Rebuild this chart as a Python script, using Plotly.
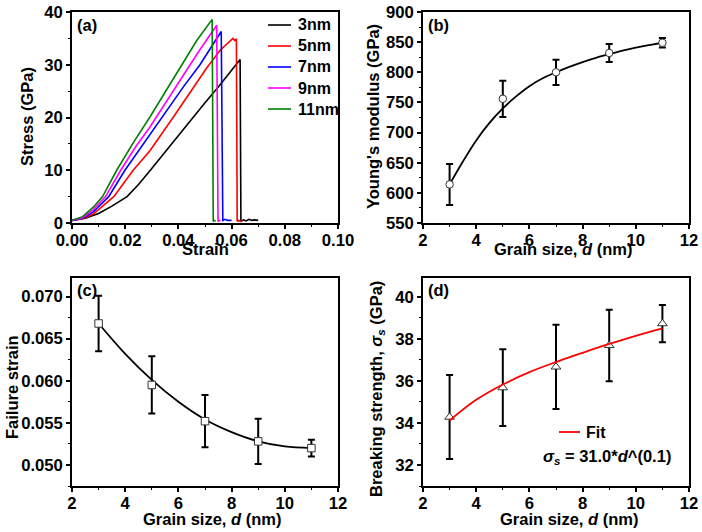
import plotly.graph_objects as go

W, H = 702, 532

# ---------------- Data ----------------
# (a) stress-strain curves
strain_3nm = [0, 0.005, 0.010, 0.015, 0.0207, 0.0250, 0.0293, 0.0350, 0.0400, 0.0450, 0.0500, 0.0550,
              0.0600, 0.0632, 0.0635, 0.0645, 0.0655, 0.0665, 0.0675, 0.0685, 0.0700]
stress_3nm = [0.5, 0.9, 1.8, 3.2, 5.0, 7.3, 9.9, 13.5, 16.7, 19.8, 22.8, 25.8,
              28.9, 31.0, 0.3, 0.6, 0.4, 0.7, 0.5, 0.6, 0.5]
strain_5nm = [0, 0.004, 0.008, 0.0157, 0.0230, 0.0293, 0.0380, 0.0449, 0.0505, 0.0556, 0.0590, 0.0605,
              0.0612, 0.0618, 0.0621, 0.0625, 0.0632, 0.0640]
stress_5nm = [0.5, 0.8, 1.7, 5.0, 10.0, 13.7, 20.0, 25.0, 29.3, 32.7, 34.3, 35.0,
              34.6, 34.9, 0.3, 0.5, 0.3, 0.4]
strain_7nm = [0, 0.004, 0.008, 0.0138, 0.0199, 0.0250, 0.0293, 0.0360, 0.0420, 0.0481, 0.0520, 0.0561,
              0.0567, 0.0575, 0.0585, 0.0600]
stress_7nm = [0.5, 0.9, 2.1, 5.0, 10.0, 13.7, 16.6, 21.6, 25.9, 30.0, 33.0, 36.3,
              0.5, 0.7, 0.5, 0.5]
strain_9nm = [0, 0.004, 0.008, 0.0126, 0.0183, 0.0240, 0.0293, 0.0360, 0.0420, 0.0480, 0.0544,
              0.0549, 0.0553, 0.0558]
stress_9nm = [0.5, 1.0, 2.5, 5.0, 10.0, 14.5, 18.2, 23.5, 28.2, 32.8, 37.5,
              0.3, 0.5, 0.4]
strain_11nm = [0, 0.004, 0.008, 0.0115, 0.0168, 0.0230, 0.0293, 0.0350, 0.0410, 0.0469, 0.0527,
               0.0531, 0.0535, 0.0540]
stress_11nm = [0.5, 1.2, 3.0, 5.0, 10.0, 15.2, 20.1, 24.8, 29.8, 34.6, 38.6,
               0.3, 0.5, 0.4]
series_names = ["3nm", "5nm", "7nm", "9nm", "11nm"]
series_colors = ["#000000", "#ff0000", "#0000ff", "#ff00ff", "#008000"]

# grain sizes
grain = [3, 5, 7, 9, 11]

# (b) Young's modulus
modulus = [614, 756, 800, 832, 849]
modulus_err = [34, 30, 21, 15, 8]
modulus_fit_x = [3, 3.5, 4, 4.5, 5, 5.5, 6, 6.5, 7, 7.5, 8, 8.5, 9, 9.5, 10, 10.5, 11]
modulus_fit_y = [614, 652, 687, 716, 740, 760, 777, 790, 800, 809, 817, 824, 830, 836, 841, 845, 849]

# (c) Failure strain
fstrain = [0.0668, 0.0595, 0.0552, 0.0528, 0.0520]
fstrain_err = [0.0033, 0.0034, 0.0031, 0.0027, 0.0010]
fstrain_fit_x = [3, 4, 5, 6, 7, 8, 9, 10, 11]
fstrain_fit_y = [0.0668, 0.0632, 0.0601, 0.0575, 0.0554, 0.0539, 0.0528, 0.0522, 0.0520]

# (d) Breaking strength
strength = [34.28, 35.68, 36.67, 37.69, 38.73]
strength_err = [2.0, 1.83, 2.0, 1.7, 0.89]
strength_fit_x = [3, 4, 5, 6, 7, 8, 9, 10, 11]
strength_fit_y = [34.12, 35.10, 35.83, 36.42, 36.90, 37.34, 37.76, 38.15, 38.50]
fit_name = "Fit"

# ---------------- Layout helpers ----------------
FONT = "Liberation Sans, Arial, sans-serif"


def px(x):
    return x / W


def py(y):
    return 1 - y / H


def axis(domain, rng, dtick, minor, anchor, fmt=None, standoff=0):
    d = dict(
        domain=domain, range=rng, dtick=dtick, tick0=0, anchor=anchor, automargin=False,
        showgrid=False, zeroline=False, showline=True, linecolor="black", linewidth=1.5,
        mirror=True, ticks="outside", ticklen=4, tickwidth=1.5, tickcolor="black",
        tickfont=dict(family=FONT, size=16.7, color="black", weight="bold"),
        minor=dict(dtick=minor, ticks="outside", ticklen=2, tickwidth=1.2, tickcolor="black", showgrid=False),
        ticklabelstandoff=standoff,
    )
    if fmt:
        d["tickformat"] = fmt
    return d


xa_dom = [px(72), px(338)]
xb_dom = [px(423), px(689)]
top_dom = [py(223), py(12)]
bot_dom = [py(486), py(278)]

fig = go.Figure()

# (a) curves
curves = [(strain_3nm, stress_3nm), (strain_5nm, stress_5nm), (strain_7nm, stress_7nm),
          (strain_9nm, stress_9nm), (strain_11nm, stress_11nm)]
for (sx, sy), name, col in zip(curves, series_names, series_colors):
    fig.add_trace(go.Scatter(x=sx, y=sy, mode="lines", name=name,
                             line=dict(color=col, width=1.6), xaxis="x", yaxis="y",
                             showlegend=False))

marker_common = dict(size=7.5, color="white", line=dict(color="#333333", width=1))
err_common = dict(type="data", color="black", thickness=2, width=3.5, visible=True)

# (b)
fig.add_trace(go.Scatter(x=modulus_fit_x, y=modulus_fit_y, mode="lines", line=dict(color="black", width=1.8, shape="spline"),
                         xaxis="x2", yaxis="y2", showlegend=False))
fig.add_trace(go.Scatter(x=grain, y=modulus, mode="markers", marker=dict(symbol="circle", **marker_common),
                         error_y=dict(array=modulus_err, **err_common), xaxis="x2", yaxis="y2", showlegend=False))
# (c)
fig.add_trace(go.Scatter(x=fstrain_fit_x, y=fstrain_fit_y, mode="lines", line=dict(color="black", width=1.8, shape="spline"),
                         xaxis="x3", yaxis="y3", showlegend=False))
fig.add_trace(go.Scatter(x=grain, y=fstrain, mode="markers", marker=dict(symbol="square", **marker_common),
                         error_y=dict(array=fstrain_err, **err_common), xaxis="x3", yaxis="y3", showlegend=False))
# (d)
fig.add_trace(go.Scatter(x=grain, y=strength, mode="markers", marker=dict(symbol="triangle-up", size=8.5, color="white",
                                                                          line=dict(color="#333333", width=1)),
                         error_y=dict(array=strength_err, **err_common), xaxis="x4", yaxis="y4", showlegend=False))
fig.add_trace(go.Scatter(x=strength_fit_x, y=strength_fit_y, mode="lines", name=fit_name,
                         line=dict(color="#ff0000", width=1.8, shape="spline"),
                         xaxis="x4", yaxis="y4", showlegend=False))

fig.update_layout(
    template="none",
    width=W, height=H, margin=dict(l=0, r=0, t=0, b=0, autoexpand=False),
    paper_bgcolor="white", plot_bgcolor="white", showlegend=False,
    font=dict(family=FONT, size=16, color="black", weight="bold"),
    xaxis=axis(xa_dom, [0, 0.1], 0.02, 0.01, "y", fmt=".2f", standoff=-3),
    yaxis=axis(top_dom, [0, 40], 10, 5, "x"),
    xaxis2=axis(xb_dom, [2, 12], 2, 1, "y2", standoff=-3),
    yaxis2=axis(top_dom, [550, 900], 50, 25, "x2"),
    xaxis3=axis(xa_dom, [2, 12], 2, 1, "y3", standoff=-3),
    yaxis3=axis(bot_dom, [0.0475, 0.0722], 0.005, 0.0025, "x3", fmt=".3f"),
    xaxis4=axis(xb_dom, [2, 12], 2, 1, "y4", standoff=-3),
    yaxis4=axis(bot_dom, [31, 40.9], 2, 1, "x4"),
)

ann_font = dict(family=FONT, size=16.5, color="black", weight="bold")
leg_font = dict(family=FONT, size=16, color="black", weight="bold")
annotations = [
    # panel labels
    dict(text="(a)", x=px(75), y=py(25), xanchor="left", yanchor="middle"),
    dict(text="(b)", x=px(426), y=py(25), xanchor="left", yanchor="middle"),
    dict(text="(c)", x=px(75), y=py(290), xanchor="left", yanchor="middle"),
    dict(text="(d)", x=px(426), y=py(290), xanchor="left", yanchor="middle"),
    # axis titles
    dict(text="Strain", x=px(205), y=py(249), xanchor="center", yanchor="middle"),
    dict(text="Stress (GPa)", x=px(27), y=py(117), xanchor="center", yanchor="middle", textangle=-90),
    dict(text="Grain size, <i>d</i> (nm)", x=px(563), y=py(249), xanchor="center", yanchor="middle"),
    dict(text="Young's modulus (GPa)", x=px(373), y=py(117), xanchor="center", yanchor="middle", textangle=-90),
    dict(text="Grain size, <i>d</i> (nm)", x=px(212), y=py(519), xanchor="center", yanchor="middle"),
    dict(text="Failure strain", x=px(12), y=py(387), xanchor="center", yanchor="middle", textangle=-90),
    dict(text="Grain size, <i>d</i> (nm)", x=px(569), y=py(519), xanchor="center", yanchor="middle"),
    dict(text="Breaking strength, <i>σ</i><sub><i>s</i></sub> (GPa)", x=px(377), y=py(389),
         xanchor="center", yanchor="middle", textangle=-90),
    # fit equation
    dict(text="<i>σ</i><sub><i>s</i></sub> = 31.0*<i>d</i>^(0.1)", x=px(541), y=py(457),
         xanchor="left", yanchor="middle"),
]
for a in annotations:
    a.update(xref="paper", yref="paper", showarrow=False, font=ann_font)

# legend for (a): line sample + label per series
shapes = []
for i, (name, col) in enumerate(zip(series_names, series_colors)):
    yy = 25 + i * 21
    shapes.append(dict(type="line", xref="paper", yref="paper", x0=px(268), x1=px(291), y0=py(yy), y1=py(yy),
                       line=dict(color=col, width=1.6)))
    annotations.append(dict(text=name, x=px(296), y=py(yy), xanchor="left", yanchor="middle",
                            xref="paper", yref="paper", showarrow=False, font=leg_font))
# legend for (d)
shapes.append(dict(type="line", xref="paper", yref="paper", x0=px(559), x1=px(580), y0=py(432), y1=py(432),
                   line=dict(color="#ff0000", width=1.8)))
annotations.append(dict(text=fit_name, x=px(584), y=py(432), xanchor="left", yanchor="middle",
                        xref="paper", yref="paper", showarrow=False, font=leg_font))

fig.update_layout(annotations=annotations, shapes=shapes)

fig.write_html("out.html", config={"displayModeBar": False},
               post_script="document.body.style.margin='0px';document.body.style.padding='0px';")
